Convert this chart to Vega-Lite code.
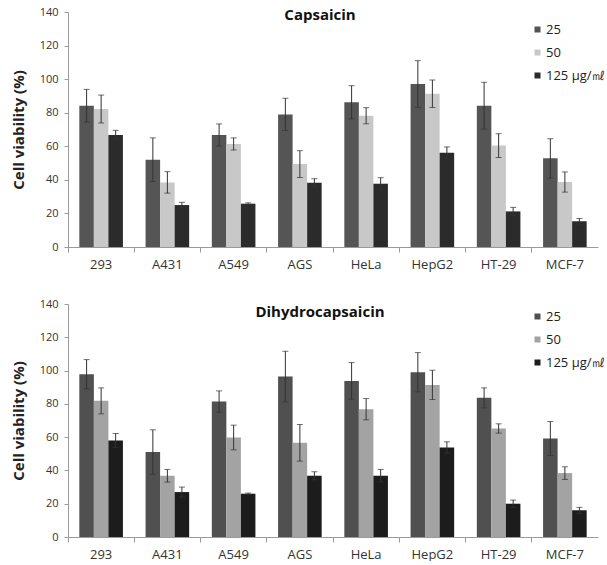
{
  "$schema": "https://vega.github.io/schema/vega-lite/v6.json",
  "padding": {"left": 11, "top": 6, "right": 0, "bottom": 0},
  "config": {
    "view": {"stroke": null},
    "font": "Open Sans",
    "concat": {"spacing": 27},
    "axis": {"domainColor": "#9a9a9a", "tickColor": "#9a9a9a", "labelColor": "#333333", "titleColor": "#222222"},
    "axisY": {"titleFontSize": 15, "titleFontWeight": "bold", "titlePadding": 13, "values": [0, 20, 40, 60, 80, 100, 120, 140], "grid": false, "tickSize": 4, "labelFontSize": 11, "labelPadding": 6}
  },
  "datasets": {
    "cap": [
      {"cell": "293", "dose": "25", "v": 84.2, "lo": 74.5, "hi": 93.9},
      {"cell": "293", "dose": "50", "v": 82.2, "lo": 73.9, "hi": 90.5},
      {"cell": "293", "dose": "125 μg/㎖", "v": 66.7, "lo": 63.9, "hi": 69.5},
      {"cell": "A431", "dose": "25", "v": 52.0, "lo": 39.0, "hi": 65.0},
      {"cell": "A431", "dose": "50", "v": 38.5, "lo": 32.1, "hi": 44.9},
      {"cell": "A431", "dose": "125 μg/㎖", "v": 25.0, "lo": 23.4, "hi": 26.6},
      {"cell": "A549", "dose": "25", "v": 66.7, "lo": 60.1, "hi": 73.3},
      {"cell": "A549", "dose": "50", "v": 61.4, "lo": 57.8, "hi": 65.0},
      {"cell": "A549", "dose": "125 μg/㎖", "v": 25.8, "lo": 25.3, "hi": 26.3},
      {"cell": "AGS", "dose": "25", "v": 79.0, "lo": 69.4, "hi": 88.6},
      {"cell": "AGS", "dose": "50", "v": 49.4, "lo": 41.4, "hi": 57.4},
      {"cell": "AGS", "dose": "125 μg/㎖", "v": 38.3, "lo": 35.9, "hi": 40.7},
      {"cell": "HeLa", "dose": "25", "v": 86.2, "lo": 76.3, "hi": 96.1},
      {"cell": "HeLa", "dose": "50", "v": 78.2, "lo": 73.4, "hi": 83.0},
      {"cell": "HeLa", "dose": "125 μg/㎖", "v": 37.7, "lo": 34.1, "hi": 41.3},
      {"cell": "HepG2", "dose": "25", "v": 97.1, "lo": 83.2, "hi": 111.0},
      {"cell": "HepG2", "dose": "50", "v": 91.3, "lo": 83.1, "hi": 99.5},
      {"cell": "HepG2", "dose": "125 μg/㎖", "v": 56.2, "lo": 52.8, "hi": 59.6},
      {"cell": "HT-29", "dose": "25", "v": 84.2, "lo": 70.3, "hi": 98.1},
      {"cell": "HT-29", "dose": "50", "v": 60.4, "lo": 53.3, "hi": 67.5},
      {"cell": "HT-29", "dose": "125 μg/㎖", "v": 21.2, "lo": 18.8, "hi": 23.6},
      {"cell": "MCF-7", "dose": "25", "v": 52.8, "lo": 41.1, "hi": 64.5},
      {"cell": "MCF-7", "dose": "50", "v": 38.7, "lo": 32.7, "hi": 44.7},
      {"cell": "MCF-7", "dose": "125 μg/㎖", "v": 15.3, "lo": 13.6, "hi": 17.0}
    ],
    "dih": [
      {"cell": "293", "dose": "25", "v": 97.8, "lo": 89.0, "hi": 106.6},
      {"cell": "293", "dose": "50", "v": 81.8, "lo": 74.0, "hi": 89.6},
      {"cell": "293", "dose": "125 μg/㎖", "v": 58.0, "lo": 53.8, "hi": 62.2},
      {"cell": "A431", "dose": "25", "v": 51.0, "lo": 37.6, "hi": 64.4},
      {"cell": "A431", "dose": "50", "v": 36.8, "lo": 33.0, "hi": 40.6},
      {"cell": "A431", "dose": "125 μg/㎖", "v": 27.0, "lo": 24.0, "hi": 30.0},
      {"cell": "A549", "dose": "25", "v": 81.4, "lo": 75.0, "hi": 87.8},
      {"cell": "A549", "dose": "50", "v": 59.8, "lo": 52.4, "hi": 67.2},
      {"cell": "A549", "dose": "125 μg/㎖", "v": 26.0, "lo": 25.6, "hi": 26.4},
      {"cell": "AGS", "dose": "25", "v": 96.4, "lo": 81.2, "hi": 111.6},
      {"cell": "AGS", "dose": "50", "v": 56.6, "lo": 45.6, "hi": 67.6},
      {"cell": "AGS", "dose": "125 μg/㎖", "v": 36.8, "lo": 34.4, "hi": 39.2},
      {"cell": "HeLa", "dose": "25", "v": 93.8, "lo": 82.8, "hi": 104.8},
      {"cell": "HeLa", "dose": "50", "v": 76.8, "lo": 70.4, "hi": 83.2},
      {"cell": "HeLa", "dose": "125 μg/㎖", "v": 36.8, "lo": 33.0, "hi": 40.6},
      {"cell": "HepG2", "dose": "25", "v": 99.0, "lo": 87.2, "hi": 110.8},
      {"cell": "HepG2", "dose": "50", "v": 91.4, "lo": 82.6, "hi": 100.2},
      {"cell": "HepG2", "dose": "125 μg/㎖", "v": 53.8, "lo": 50.4, "hi": 57.2},
      {"cell": "HT-29", "dose": "25", "v": 83.6, "lo": 77.6, "hi": 89.6},
      {"cell": "HT-29", "dose": "50", "v": 65.2, "lo": 62.4, "hi": 68.0},
      {"cell": "HT-29", "dose": "125 μg/㎖", "v": 20.0, "lo": 17.8, "hi": 22.2},
      {"cell": "MCF-7", "dose": "25", "v": 59.2, "lo": 49.0, "hi": 69.4},
      {"cell": "MCF-7", "dose": "50", "v": 38.4, "lo": 34.6, "hi": 42.2},
      {"cell": "MCF-7", "dose": "125 μg/㎖", "v": 16.0, "lo": 14.2, "hi": 17.8}
    ]
  },
  "vconcat": [
    {
      "width": 530, "height": 235,
      "title": {"text": "Capsaicin", "fontSize": 15, "fontWeight": "bold", "offset": -17, "dx": -13, "anchor": "middle", "color": "#111111"},
      "data": {"name": "cap"},
      "encoding": {
        "x": {"field": "cell", "type": "nominal", "sort": ["293", "A431", "A549", "AGS", "HeLa", "HepG2", "HT-29", "MCF-7"],
              "scale": {"paddingInner": 0, "paddingOuter": 0},
              "axis": {"title": null, "labelAngle": 0, "bandPosition": 0, "tickSize": 5, "labelPadding": 6, "labelFontSize": 13}},
        "xOffset": {"field": "dose", "type": "nominal", "sort": ["25", "50", "125 μg/㎖"], "scale": {"paddingInner": 0, "paddingOuter": 0.78}}
      },
      "layer": [
        {
          "mark": {"type": "bar"},
          "encoding": {
            "y": {"field": "v", "type": "quantitative", "scale": {"domain": [0, 140], "nice": false}, "title": "Cell viability (%)"},
            "color": {"field": "dose", "type": "nominal",
                      "scale": {"domain": ["25", "50", "125 μg/㎖"], "range": ["#555555", "#c8c8c8", "#2b2b2b"]},
                      "legend": {"title": null, "orient": "none", "legendX": 463, "legendY": 11, "symbolType": "square", "symbolSize": 36, "labelFontSize": 13, "labelColor": "#222222", "rowPadding": 9, "labelOffset": 2}}
          }
        },
        {
          "mark": {"type": "rule", "color": "#333333", "strokeWidth": 1},
          "encoding": {
            "y": {"field": "lo", "type": "quantitative", "scale": {"domain": [0, 140], "nice": false}, "title": "Cell viability (%)"},
            "y2": {"field": "hi"}
          }
        },
        {
          "mark": {"type": "tick", "color": "#333333", "size": 6, "thickness": 1},
          "encoding": {"y": {"field": "lo", "type": "quantitative", "scale": {"domain": [0, 140], "nice": false}, "title": "Cell viability (%)"}}
        },
        {
          "mark": {"type": "tick", "color": "#333333", "size": 6, "thickness": 1},
          "encoding": {"y": {"field": "hi", "type": "quantitative", "scale": {"domain": [0, 140], "nice": false}, "title": "Cell viability (%)"}}
        }
      ]
    },
    {
      "width": 530, "height": 233,
      "title": {"text": "Dihydrocapsaicin", "fontSize": 15, "fontWeight": "bold", "offset": -22, "dx": -13, "anchor": "middle", "color": "#111111"},
      "data": {"name": "dih"},
      "encoding": {
        "x": {"field": "cell", "type": "nominal", "sort": ["293", "A431", "A549", "AGS", "HeLa", "HepG2", "HT-29", "MCF-7"],
              "scale": {"paddingInner": 0, "paddingOuter": 0},
              "axis": {"title": null, "labelAngle": 0, "bandPosition": 0, "tickSize": 5, "labelPadding": 6, "labelFontSize": 13}},
        "xOffset": {"field": "dose", "type": "nominal", "sort": ["25", "50", "125 μg/㎖"], "scale": {"paddingInner": 0, "paddingOuter": 0.78}}
      },
      "layer": [
        {
          "mark": {"type": "bar"},
          "encoding": {
            "y": {"field": "v", "type": "quantitative", "scale": {"domain": [0, 140], "nice": false}, "title": "Cell viability (%)"},
            "color": {"field": "dose", "type": "nominal",
                      "scale": {"domain": ["25", "50", "125 μg/㎖"], "range": ["#505050", "#a3a3a3", "#1c1c1c"]},
                      "legend": {"title": null, "orient": "none", "legendX": 463, "legendY": 6, "symbolType": "square", "symbolSize": 36, "labelFontSize": 13, "labelColor": "#222222", "rowPadding": 9, "labelOffset": 2}}
          }
        },
        {
          "mark": {"type": "rule", "color": "#333333", "strokeWidth": 1},
          "encoding": {
            "y": {"field": "lo", "type": "quantitative", "scale": {"domain": [0, 140], "nice": false}, "title": "Cell viability (%)"},
            "y2": {"field": "hi"}
          }
        },
        {
          "mark": {"type": "tick", "color": "#333333", "size": 6, "thickness": 1},
          "encoding": {"y": {"field": "lo", "type": "quantitative", "scale": {"domain": [0, 140], "nice": false}, "title": "Cell viability (%)"}}
        },
        {
          "mark": {"type": "tick", "color": "#333333", "size": 6, "thickness": 1},
          "encoding": {"y": {"field": "hi", "type": "quantitative", "scale": {"domain": [0, 140], "nice": false}, "title": "Cell viability (%)"}}
        }
      ]
    }
  ],
  "resolve": {"scale": {"color": "independent"}, "legend": {"color": "independent"}}
}
